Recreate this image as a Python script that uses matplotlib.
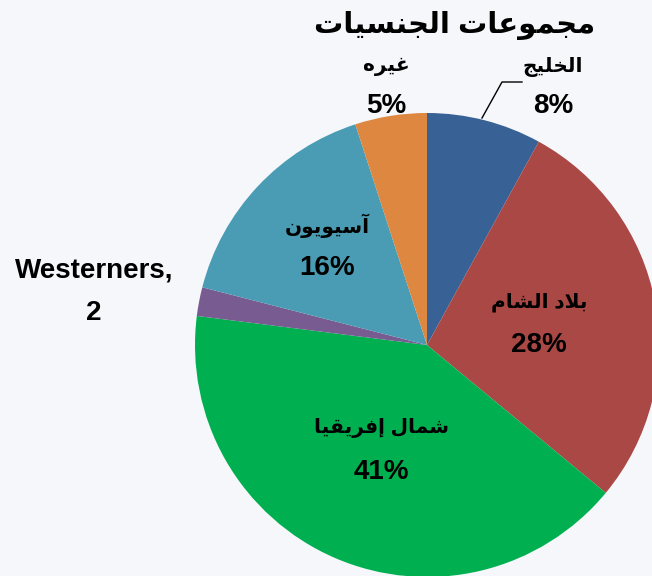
import matplotlib
matplotlib.use("Agg")
import matplotlib.pyplot as plt

# ── Dados ──────────────────────────────────────────────────────────────────────
categorias = ["الخليج", "بلاد الشام", "شمال إفريقيا", "Westerners", "آسيويون", "غيره"]
valores = [8, 28, 41, 2, 16, 5]
rotulos_valor = ["8%", "28%", "41%", "2", "16%", "5%"]
cores = ["#386196", "#A94845", "#00B050", "#785B91", "#4A9CB4", "#DE8741"]
titulo = "مجموعات الجنسيات"

# posições (px da imagem) de cada rótulo: (x, y_nome, y_valor)
POS_ROTULO = [(553, 67, 106), (539, 302, 345), (381, 428, 472),
              (94, 271, 313), (327, 226, 268), (386, 67, 106)]
W, H = 652, 576
CENTRO = (427, 345)
RAIO = 232

# ── Shaping árabe simples (matplotlib não faz ligação/RTL) ─────────────────────
AR = {
    "ا": ("\uFE8D", "\uFE8E", None, None),
    "آ": ("\uFE81", "\uFE82", None, None),
    "إ": ("\uFE87", "\uFE88", None, None),
    "ب": ("\uFE8F", "\uFE90", "\uFE91", "\uFE92"),
    "ت": ("\uFE95", "\uFE96", "\uFE97", "\uFE98"),
    "ج": ("\uFE9D", "\uFE9E", "\uFE9F", "\uFEA0"),
    "خ": ("\uFEA5", "\uFEA6", "\uFEA7", "\uFEA8"),
    "د": ("\uFEA9", "\uFEAA", None, None),
    "ر": ("\uFEAD", "\uFEAE", None, None),
    "س": ("\uFEB1", "\uFEB2", "\uFEB3", "\uFEB4"),
    "ش": ("\uFEB5", "\uFEB6", "\uFEB7", "\uFEB8"),
    "ع": ("\uFEC9", "\uFECA", "\uFECB", "\uFECC"),
    "غ": ("\uFECD", "\uFECE", "\uFECF", "\uFED0"),
    "ف": ("\uFED1", "\uFED2", "\uFED3", "\uFED4"),
    "ق": ("\uFED5", "\uFED6", "\uFED7", "\uFED8"),
    "ل": ("\uFEDD", "\uFEDE", "\uFEDF", "\uFEE0"),
    "م": ("\uFEE1", "\uFEE2", "\uFEE3", "\uFEE4"),
    "ن": ("\uFEE5", "\uFEE6", "\uFEE7", "\uFEE8"),
    "ه": ("\uFEE9", "\uFEEA", "\uFEEB", "\uFEEC"),
    "و": ("\uFEED", "\uFEEE", None, None),
    "ي": ("\uFEF1", "\uFEF2", "\uFEF3", "\uFEF4"),
}
LAM_ALEF = {"ا": ("\uFEFB", "\uFEFC"), "آ": ("\uFEF5", "\uFEF6"), "إ": ("\uFEF9", "\uFEFA")}


def ar(txt):
    if not any(c in AR for c in txt):
        return txt
    out, prev_dual, i = [], False, 0
    while i < len(txt):
        c = txt[i]
        nxt = txt[i + 1] if i + 1 < len(txt) else ""
        if c not in AR:
            out.append(c)
            prev_dual = False
            i += 1
            continue
        if c == "ل" and nxt in LAM_ALEF:
            out.append(LAM_ALEF[nxt][1 if prev_dual else 0])
            prev_dual = False
            i += 2
            continue
        iso, fin, ini, med = AR[c]
        liga_prox = ini is not None and nxt in AR
        if prev_dual and liga_prox:
            g = med
        elif prev_dual:
            g = fin
        elif liga_prox:
            g = ini
        else:
            g = iso
        out.append(g)
        prev_dual = ini is not None
        i += 1
    return "".join(reversed(out))


def py(y):
    # px da imagem (y para baixo) -> coordenada do eixo (y para cima)
    return H - y


FONTE = ["Liberation Sans", "DejaVu Sans"]

fig = plt.figure(figsize=(W / 100, H / 100), dpi=100)
fig.patch.set_facecolor("#F5F7FA")
ax = fig.add_axes([0, 0, 1, 1])
ax.set_facecolor("none")

ax.pie(valores, colors=cores, startangle=90, counterclock=False,
       center=(CENTRO[0], py(CENTRO[1])), radius=RAIO,
       wedgeprops=dict(linewidth=0))
ax.set_xlim(0, W)
ax.set_ylim(0, H)
ax.set_aspect("equal")
ax.axis("off")

for cat, val, (x, yn, yv) in zip(categorias, rotulos_valor, POS_ROTULO):
    if cat == "Westerners":
        nome, tam = cat + ",", 20
    else:
        nome, tam = ar(cat), 14.5
    ax.text(x, py(yn), nome, ha="center", va="center", fontsize=tam,
            fontweight="bold", family=FONTE, color="black")
    ax.text(x, py(yv), val, ha="center", va="center", fontsize=20,
            fontweight="bold", family=FONTE, color="black")

# linha guia do rótulo "الخليج"
ax.plot([482, 502, 522], [py(118), py(82), py(82)], color="black", linewidth=1)

ax.text(455, py(26), ar(titulo), ha="center", va="center", fontsize=21,
        fontweight="bold", family=FONTE, color="black")

plt.savefig("out.png", dpi=100, facecolor=fig.get_facecolor())
